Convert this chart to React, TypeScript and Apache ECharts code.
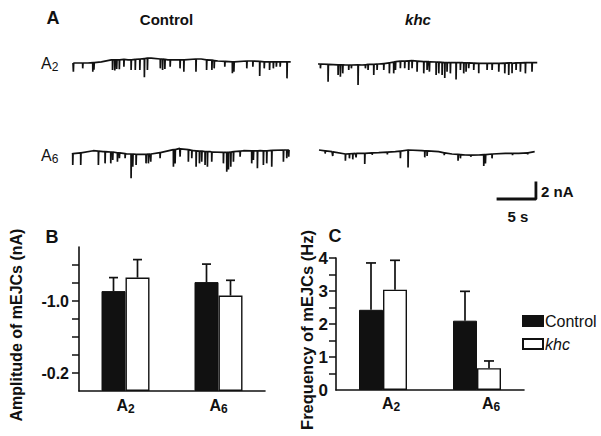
import React, { useEffect, useRef } from 'react';
import * as echarts from 'echarts';

const FONT = '"Liberation Sans", Arial, Helvetica, sans-serif';
const INK = '#111111';

// ---------- Panel A: example traces (time in s, current in nA) ----------
// baseline samples [t, nA]
const ctrlA2Base = [[0, -0.25], [1.98, -0.25], [3.74, -0.1], [5.05, 0.15], [7.25, 0.15], [10.3, 0.37], [12.5, 0.15], [14.7, 0.15], [16.9, 0.25], [19.1, 0], [21.3, -0.12], [23.5, 0], [25.7, -0.12], [28.7, -0.12]];
// spikes [t, start, tip]
const ctrlA2Spikes = [[0.04, -0.25, -1.33], [1.27, -0.25, -0.92], [2.6, -0.2, -1.33], [2.75, -0.2, -1.1], [5.2, 0.15, -1.12], [5.5, 0.15, -1.2], [5.75, 0.15, -1.0], [6.1, 0.15, -1.04], [6.7, 0.2, -0.71], [7.65, 0.15, -1.12], [8.2, 0.2, -1.12], [8.8, 0.25, -1.12], [9.4, 0.3, -2.04], [9.8, 0.35, -1.12], [11.5, 0.25, -0.92], [11.8, 0.25, -1.12], [12.1, 0.2, -1.0], [12.8, 0.15, -0.71], [14.1, 0.15, -0.92], [14.6, 0.15, -1.33], [16.2, 0.25, -1.33], [17.6, 0.15, -1.12], [18.3, 0.1, -1.12], [18.6, 0.05, -0.92], [20.0, -0.05, -0.71], [21.0, -0.1, -1.54], [21.2, -0.1, -1.33], [22.9, 0, -0.92], [23.7, 0, -0.71], [24.6, -0.05, -1.88], [25.2, -0.1, -0.92], [25.9, -0.1, -1.12], [26.4, -0.1, -0.92], [26.8, -0.1, -0.71], [27.3, -0.1, -0.71], [28.2, -0.12, -2.17]];

const ctrlA6Base = [[0, -0.25], [2.8, 0.16], [4.1, 0.04], [7.2, -0.25], [8.5, -0.375], [10.3, -0.25], [11.6, -0.08], [14.2, 0.46], [16.0, 0.16], [18.2, 0.04], [20.4, -0.08], [22.6, 0.16], [24.8, 0.16], [28.7, 0.25]];
const ctrlA6Spikes = [[0.09, -0.2, -1.62], [1.14, -0.1, -1.62], [3.47, 0.1, -1.62], [4.35, 0.05, -1.42], [5.1, 0, -1.42], [5.36, 0, -1.0], [5.98, -0.1, -1.21], [6.24, -0.1, -0.79], [6.99, -0.2, -0.79], [7.78, -0.25, -3.29], [8.0, -0.25, -1.83], [8.44, -0.3, -1.62], [9.75, -0.3, -1.42], [10.06, -0.25, -1.42], [10.37, -0.25, -1.21], [11.6, -0.08, -0.79], [13.36, 0.3, -1.83], [13.58, 0.3, -1.42], [14.24, 0.4, -0.58], [15.33, 0.3, -1.21], [15.78, 0.2, -0.79], [16.35, 0.15, -1.83], [16.79, 0.1, -1.42], [17.09, 0.1, -1.21], [17.53, 0.05, -1.62], [17.84, 0.05, -1.83], [18.41, 0, -1.21], [19.95, -0.05, -1.42], [20.39, -0.05, -2.46], [20.61, -0.05, -2.17], [20.92, 0, -1.83], [21.27, 0.05, -1.21], [22.15, 0.1, -0.58], [23.68, 0.15, -1.42], [23.9, 0.15, -1.0], [24.43, 0.15, -2.04], [25.22, 0.15, -1.62], [25.66, 0.15, -1.42], [26.32, 0.2, -1.83], [27.86, 0.25, -1.21], [28.3, 0.25, -0.79], [28.56, 0.25, -0.58]];

const khcA2Base = [[0, -0.25], [3.6, -0.375], [5.8, -0.375], [8.0, -0.25], [10.2, 0.04], [12.4, 0.17], [14.6, 0.04], [16.8, -0.08], [19.0, -0.08], [21.2, -0.17], [23.4, -0.17], [25.6, -0.17], [28.9, -0.08]];
const khcA2Spikes = [[0.31, -0.25, -0.79], [1.32, -0.3, -2.46], [2.64, -0.35, -1.62], [2.94, -0.35, -1.83], [3.25, -0.35, -1.42], [4.04, -0.375, -1.0], [4.39, -0.375, -0.79], [5.27, -0.35, -2.87], [6.24, -0.35, -0.79], [6.59, -0.3, -1.0], [7.34, -0.3, -1.62], [7.78, -0.25, -1.0], [8.66, -0.2, -1.0], [9.4, -0.1, -1.42], [9.97, 0, -1.42], [10.2, 0.04, -1.0], [10.85, 0.1, -0.79], [11.42, 0.12, -0.79], [11.95, 0.15, -1.0], [12.39, 0.17, -0.79], [13.05, 0.1, -1.21], [13.93, 0.05, -1.42], [14.37, 0.04, -1.0], [14.68, 0.03, -1.21], [15.56, 0, -1.62], [15.91, -0.02, -1.42], [16.35, -0.05, -1.62], [16.7, -0.08, -2.0], [17.0, -0.08, -1.21], [17.44, -0.08, -1.42], [18.19, -0.08, -2.2], [18.76, -0.08, -1.0], [19.2, -0.1, -1.42], [19.51, -0.1, -1.21], [19.86, -0.12, -0.79], [20.52, -0.15, -1.0], [21.18, -0.17, -1.42], [22.28, -0.17, -1.0], [22.94, -0.17, -1.0], [23.82, -0.17, -1.21], [24.61, -0.15, -1.42], [25.13, -0.12, -1.62], [25.57, -0.1, -1.42], [26.1, -0.1, -1.0], [26.67, -0.1, -1.21], [27.33, -0.08, -1.42], [28.2, -0.08, -1.21]];

const khcA6Base = [[0, 0.25], [1.71, 0.04], [3.47, -0.25], [4.79, -0.17], [6.11, -0.17], [7.87, -0.08], [10.06, 0.04], [11.82, 0.25], [13.58, 0.17], [15.77, 0.04], [17.53, -0.25], [19.29, -0.375], [21.05, -0.375], [22.8, -0.25], [24.56, -0.17], [26.32, -0.17], [28.43, 0.04]];
const khcA6Spikes = [[0.8, 0.15, -0.2], [1.8, 0.02, -0.5], [3.47, -0.25, -1.08], [4.0, -0.22, -0.79], [4.44, -0.2, -0.92], [4.88, -0.17, -0.67], [6.02, -0.17, -1.5], [7.0, -0.12, -0.35], [9.0, -0.02, -0.3], [10.72, 0.1, -0.79], [11.73, 0.25, -1.95], [13.93, 0.15, -0.67], [14.24, 0.13, -0.5], [16.5, -0.1, -0.4], [18.32, -0.3, -1.08], [18.63, -0.32, -0.79], [20.0, -0.38, -0.6], [21.71, -0.33, -1.75], [21.93, -0.32, -1.42], [22.8, -0.25, -0.79], [25.5, -0.17, -0.4], [27.5, -0.1, -0.3]];

// scale bar: 5 s, 2 nA
const scaleBar = [[0, 0], [5, 0], [5, 2]];

// ---------- Panels B and C ----------
const categories = ['A2', 'A6'];
const ampControl = [-1.11, -1.21];
const ampControlErr = [0.15, 0.2];
const ampKhc = [-1.26, -1.06];
const ampKhcErr = [0.2, 0.17];
const freqControl = [2.43, 2.1];
const freqControlErr = [1.42, 0.89];
const freqKhc = [3.04, 0.66];
const freqKhcErr = [0.89, 0.22];
const ampTicks = [-1.4, -1.2, -1.0, -0.8, -0.6, -0.4, -0.2];
const ampLabels = [-1.0, -0.2];
const freqTicks = [0.5, 1, 1.5, 2, 2.5, 3, 3.5, 4];
const freqLabels = [0, 1, 2, 3, 4];

// ---------- layout ----------
const PX_PER_S = 7.586;
const PX_PER_NA = 8;
const T_SPAN = 29;
const Y_MAX = 1.5;
const Y_MIN = -4.5;
const traceLayout = [
  { left: 73, zeroY: 61 },
  { left: 72, zeroY: 152 },
  { left: 318, zeroY: 62 },
  { left: 319, zeroY: 152 },
];
const traces = [
  [ctrlA2Base, ctrlA2Spikes],
  [ctrlA6Base, ctrlA6Spikes],
  [khcA2Base, khcA2Spikes],
  [khcA6Base, khcA6Spikes],
];
const cLabelShift = [16, 28];

function buildTrace(base: number[][], spikes: number[][]) {
  const pts: number[][] = base.map((p) => [p[0], p[1]]);
  spikes.forEach(([t, s, tip]) => {
    pts.push([t, s], [t + 0.01, tip], [t + 0.05, s]);
  });
  pts.sort((a, b) => a[0] - b[0]);
  return pts;
}

function errorSeries(axis: number, means: number[], errs: number[], sign: number, offset: number, cap: number) {
  return {
    type: 'custom',
    xAxisIndex: axis,
    yAxisIndex: axis,
    z: 5,
    silent: true,
    encode: { x: 0, y: [1, 2] },
    data: means.map((m, i) => [i, m, m + sign * errs[i]]),
    renderItem: (_p: any, api: any) => {
      const a = api.coord([api.value(0), api.value(1)]);
      const b = api.coord([api.value(0), api.value(2)]);
      const x = a[0] + offset;
      const st = { stroke: INK, lineWidth: 1.7 };
      return {
        type: 'group',
        children: [
          { type: 'line', shape: { x1: x, y1: a[1], x2: x, y2: b[1] }, style: st },
          { type: 'line', shape: { x1: x - cap, y1: b[1], x2: x + cap, y2: b[1] }, style: st },
        ],
      };
    },
  };
}

function buildOption() {
  const grid: any[] = [];
  const xAxis: any[] = [];
  const yAxis: any[] = [];
  const series: any[] = [];

  traceLayout.forEach((l, i) => {
    grid.push({ left: l.left, top: l.zeroY - Y_MAX * PX_PER_NA, width: T_SPAN * PX_PER_S, height: (Y_MAX - Y_MIN) * PX_PER_NA });
    xAxis.push({ gridIndex: i, type: 'value', min: 0, max: T_SPAN, show: false });
    yAxis.push({ gridIndex: i, type: 'value', min: Y_MIN, max: Y_MAX, show: false });
    series.push({
      type: 'line', xAxisIndex: i, yAxisIndex: i, symbol: 'none', clip: false, silent: true,
      data: buildTrace(traces[i][0], traces[i][1]),
      lineStyle: { color: INK, width: 1.7 },
    });
  });

  // scale bar grid (index 4)
  grid.push({ left: 498, top: 183, width: 5 * PX_PER_S, height: 2 * PX_PER_NA });
  xAxis.push({ gridIndex: 4, type: 'value', min: 0, max: 5, show: false });
  yAxis.push({ gridIndex: 4, type: 'value', min: 0, max: 2, show: false });
  series.push({
    type: 'line', xAxisIndex: 4, yAxisIndex: 4, symbol: 'none', clip: false, silent: true,
    data: scaleBar, lineStyle: { color: INK, width: 2.8, cap: 'square' },
  });

  const axisLineStyle = { lineStyle: { color: INK, width: 1.6 } };
  const subRich = {
    a: { fontFamily: FONT, fontSize: 16, fontWeight: 'bold', color: INK, lineHeight: 19 },
    s: { fontFamily: FONT, fontSize: 12, fontWeight: 'bold', color: INK, verticalAlign: 'bottom' },
    p0: { fontFamily: FONT, fontSize: 16, fontWeight: 'bold', color: INK, lineHeight: 19, padding: [0, 0, 0, cLabelShift[0]] },
    p1: { fontFamily: FONT, fontSize: 16, fontWeight: 'bold', color: INK, lineHeight: 19, padding: [0, 0, 0, cLabelShift[1]] },
  };

  // Panel B (index 5)
  grid.push({ left: 79, top: 247, width: 186, height: 144 });
  xAxis.push({
    gridIndex: 5, type: 'category', data: categories,
    axisLine: axisLineStyle, axisTick: { show: false },
    axisLabel: { margin: 5, formatter: (v: string) => `{a|${v[0]}}{s|${v.slice(1)}}`, rich: subRich },
  });
  yAxis.push({
    gridIndex: 5, type: 'value', inverse: true, min: -1.6, max: 0, interval: 0.2,
    axisLine: { show: true, ...axisLineStyle },
    axisTick: { show: true, length: 7, lineStyle: { color: INK, width: 1.5 }, customValues: ampTicks },
    axisLabel: { customValues: ampLabels, formatter: (v: number) => v.toFixed(1), fontFamily: FONT, fontSize: 16, fontWeight: 'bold', color: INK, margin: 10 },
    splitLine: { show: false },
  });

  // Panel C (index 6)
  grid.push({ left: 336, top: 258, width: 188, height: 132 });
  xAxis.push({
    gridIndex: 6, type: 'category', data: categories,
    axisLine: axisLineStyle, axisTick: { show: false },
    axisLabel: { margin: 4, formatter: (v: string, i: number) => `{p${i}|${v[0]}}{s|${v.slice(1)}}`, rich: subRich },
  });
  yAxis.push({
    gridIndex: 6, type: 'value', min: 0, max: 4, interval: 0.5,
    axisLine: { show: true, ...axisLineStyle },
    axisTick: { show: true, length: 7, lineStyle: { color: INK, width: 1.5 }, customValues: freqTicks },
    axisLabel: { customValues: freqLabels, formatter: (v: number) => String(v), fontFamily: FONT, fontSize: 17, fontWeight: 'bold', color: INK, margin: 8 },
    splitLine: { show: false },
  });

  const ctrlStyle = { color: INK, borderColor: INK, borderWidth: 1 };
  const khcStyle = { color: '#ffffff', borderColor: INK, borderWidth: 1.4 };
  series.push(
    { type: 'bar', name: 'Control', xAxisIndex: 5, yAxisIndex: 5, data: ampControl, barWidth: 24, barGap: '0%', itemStyle: ctrlStyle, silent: true },
    { type: 'bar', name: 'khc', xAxisIndex: 5, yAxisIndex: 5, data: ampKhc, barWidth: 24, barGap: '0%', itemStyle: khcStyle, silent: true },
    { type: 'bar', name: 'Control', xAxisIndex: 6, yAxisIndex: 6, data: freqControl, barWidth: 24, barGap: '0%', itemStyle: ctrlStyle, silent: true },
    { type: 'bar', name: 'khc', xAxisIndex: 6, yAxisIndex: 6, data: freqKhc, barWidth: 24, barGap: '0%', itemStyle: khcStyle, silent: true },
    errorSeries(5, ampControl, ampControlErr, -1, -12, 4.5),
    errorSeries(5, ampKhc, ampKhcErr, -1, 12, 4.5),
    errorSeries(6, freqControl, freqControlErr, 1, -12, 5),
    errorSeries(6, freqKhc, freqKhcErr, 1, 12, 5),
  );

  const txt = (text: string, x: number, y: number, font: string, align = 'center', extra: any = {}) => ({
    type: 'text', x, y, silent: true, ...extra,
    style: { text, font, fill: INK, textAlign: align, align, textVerticalAlign: 'middle', verticalAlign: 'middle' },
  });
  const rowRich = {
    a: { fontFamily: FONT, fontSize: 16, fill: INK, lineHeight: 19 },
    s: { fontFamily: FONT, fontSize: 12, fill: INK, verticalAlign: 'bottom' },
  };
  const rowLabel = (sub: string, x: number, y: number) => ({
    type: 'text', x, y, silent: true,
    style: { text: `{a|A}{s|${sub}}`, rich: rowRich, textAlign: 'left', align: 'left', textVerticalAlign: 'middle', verticalAlign: 'middle' },
  });

  const graphic = [
    txt('A', 53, 18, `bold 18px ${FONT}`),
    txt('Control', 166.5, 19, `bold 15px ${FONT}`),
    txt('khc', 418, 19, `italic bold 15px ${FONT}`),
    rowLabel('2', 41, 63),
    rowLabel('6', 41, 155),
    txt('2 nA', 541, 191, `bold 15px ${FONT}`, 'left'),
    txt('5 s', 518, 216, `bold 15px ${FONT}`),
    txt('B', 52, 237, `bold 18px ${FONT}`),
    txt('C', 335, 236, `bold 18px ${FONT}`),
    txt('Amplitude of mEJCs (nA)', 16, 325, `bold 16px ${FONT}`, 'center', { rotation: Math.PI / 2 }),
    txt('Frequency of mEJCs (Hz)', 306.5, 330, `bold 16.5px ${FONT}`, 'center', { rotation: Math.PI / 2 }),
  ];

  return {
    animation: false,
    backgroundColor: '#ffffff',
    grid, xAxis, yAxis, series, graphic,
    legend: {
      data: ['Control', 'khc'], orient: 'vertical', left: 517, top: 308,
      itemWidth: 20, itemHeight: 10, itemGap: 7, icon: 'rect', selectedMode: false,
      formatter: (n: string) => (n === 'khc' ? `{i|${n}}` : n),
      textStyle: {
        fontFamily: FONT, fontSize: 16, color: INK, padding: [0, 0, 0, -3],
        rich: { i: { fontFamily: FONT, fontSize: 16, fontStyle: 'italic', color: INK } },
      },
    },
  };
}

export default function App() {
  const ref = useRef<HTMLDivElement>(null);
  useEffect(() => {
    if (!ref.current) return;
    const chart = echarts.init(ref.current, null, { renderer: 'svg' });
    chart.setOption(buildOption() as any);
    return () => chart.dispose();
  }, []);
  return <div ref={ref} style={{ position: 'fixed', left: 0, top: 0, width: 601, height: 436, background: '#fff' }} />;
}
